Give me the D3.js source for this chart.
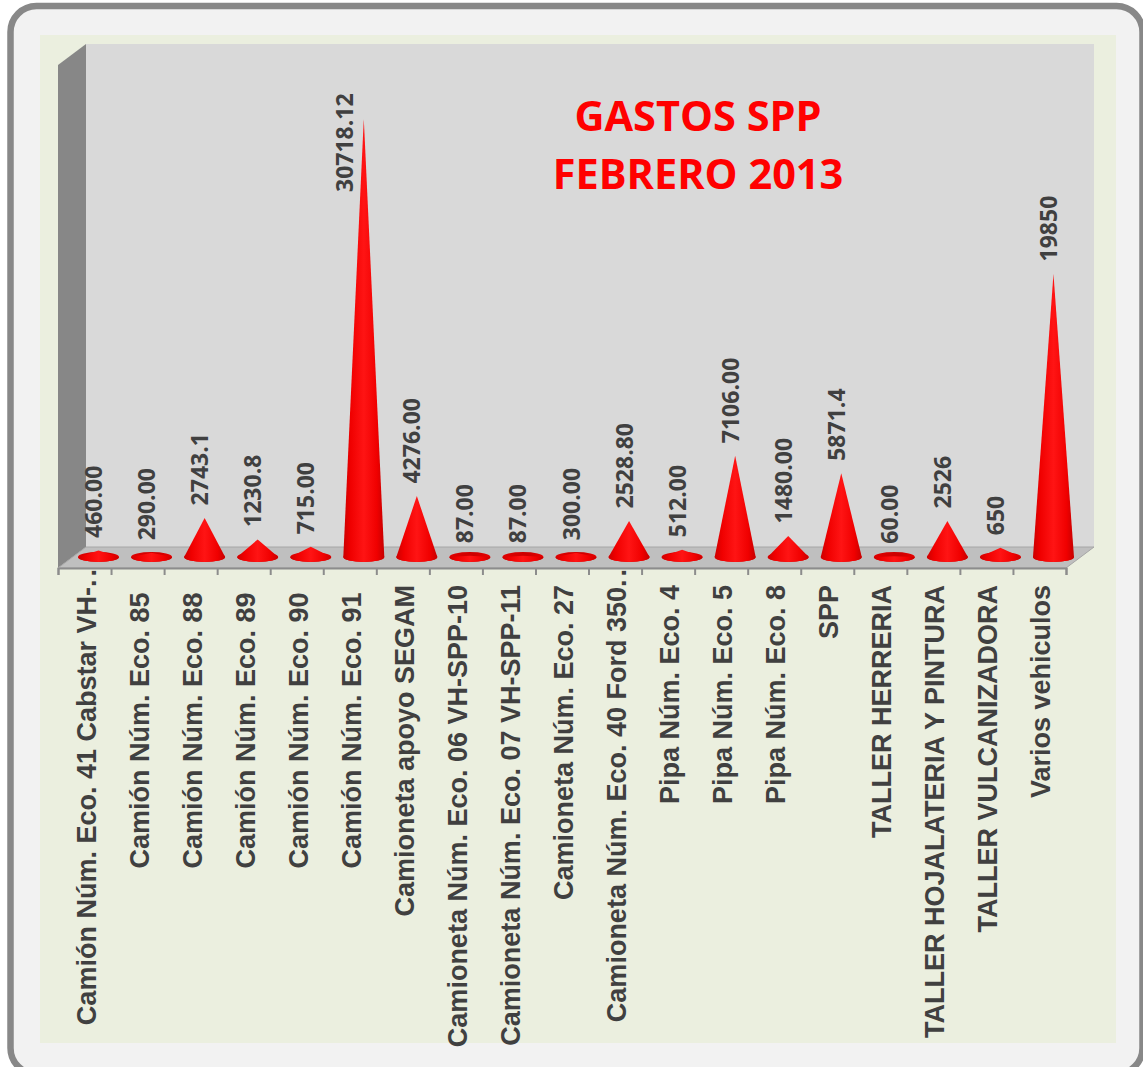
<!DOCTYPE html>
<html>
<head>
<meta charset="utf-8">
<script src="https://cdn.jsdelivr.net/npm/d3@7"></script>
<style>
  html, body { margin: 0; padding: 0; background: #fff; overflow: hidden; }
  svg { display: block; }
  text { white-space: pre; }
</style>
</head>
<body>
<div id="chart"></div>
<script>
// some names keep a trailing space, it pushes the text away from the axis
const categories = [
  'Camión Núm. Eco. 41 Cabstar VH-..', 'Camión Núm. Eco. 85 ', 'Camión Núm. Eco. 88 ',
  'Camión Núm. Eco. 89 ', 'Camión Núm. Eco. 90 ', 'Camión Núm. Eco. 91 ',
  'Camioneta apoyo SEGAM', 'Camioneta Núm. Eco. 06 VH-SPP-10', 'Camioneta Núm. Eco. 07 VH-SPP-11',
  'Camioneta Núm. Eco. 27', 'Camioneta Núm. Eco. 40 Ford 350..', 'Pipa Núm. Eco. 4',
  'Pipa Núm. Eco. 5', 'Pipa Núm. Eco. 8', 'SPP',
  'TALLER HERRERIA', 'TALLER HOJALATERIA Y PINTURA', 'TALLER VULCANIZADORA', 'Varios vehiculos'
];
const values = [460, 290, 2743.1, 1230.8, 715, 30718.12, 4276, 87, 87, 300, 2528.8, 512, 7106, 1480, 5871.4, 60, 2526, 650, 19850];
const valueLabels = ['460.00', '290.00', '2743.1', '1230.8', '715.00', '30718.12', '4276.00', '87.00', '87.00', '300.00',
  '2528.80', '512.00', '7106.00', '1480.00', '5871.4', '60.00', '2526', '650', '19850'];
const titleLines = ['GASTOS SPP', 'FEBRERO 2013'];

const width = 1143, height = 1067;

// 3d box of the plot, back wall is pushed by depthX/depthY
const plot = { left: 58, right: 1066, floor: 568, top: 65 },
    depthX = 28,
    depthY = 21,
    baseY = 557,
    coneRx = 20.5,
    coneRy = 5;

const x = d3.scaleBand()
    .domain(categories)
    .range([plot.left, plot.right]);

const y = d3.scaleLinear()
    .domain([0, 30718.12])
    .range([baseY, 119]);

const coneX = i => x(categories[i]) + x.bandwidth() / 2 + depthX / 2;

const svg = d3.select('#chart')
    .append('svg')
    .attr('width', width)
    .attr('height', height);

const defs = svg.append('defs');
const grad = defs.append('linearGradient').attr('id', 'cone');
grad.append('stop').attr('offset', '0%').attr('stop-color', '#cc0000');
grad.append('stop').attr('offset', '18%').attr('stop-color', '#f00000');
grad.append('stop').attr('offset', '50%').attr('stop-color', '#ff1414');
grad.append('stop').attr('offset', '82%').attr('stop-color', '#f00000');
grad.append('stop').attr('offset', '100%').attr('stop-color', '#c60000');

const rim = defs.append('linearGradient').attr('id', 'rim');
rim.append('stop').attr('offset', '0%').attr('stop-color', '#e00000');
rim.append('stop').attr('offset', '60%').attr('stop-color', '#cc0000');
rim.append('stop').attr('offset', '100%').attr('stop-color', '#e80000');

// outer frame
svg.append('rect')
    .attr('x', 10.5).attr('y', 6)
    .attr('width', 1132).attr('height', 1068)
    .attr('rx', 26)
    .attr('fill', '#f2f2f2')
    .attr('stroke', '#888888')
    .attr('stroke-width', 6.5);

svg.append('rect')
    .attr('x', 40).attr('y', 35)
    .attr('width', 1076).attr('height', 1008)
    .attr('fill', '#ebefdf');

// walls and floor
const poly = pts => 'M' + pts.map(p => p.join(',')).join('L') + 'Z';
svg.append('path')
    .attr('d', poly([[plot.left + depthX, plot.top - depthY], [plot.right + depthX, plot.top - depthY],
      [plot.right + depthX, plot.floor - depthY], [plot.left + depthX, plot.floor - depthY]]))
    .attr('fill', '#d9d9d9');
svg.append('path')
    .attr('d', poly([[plot.left, plot.top], [plot.left + depthX, plot.top - depthY],
      [plot.left + depthX, plot.floor - depthY], [plot.left, plot.floor]]))
    .attr('fill', '#878787');
svg.append('path')
    .attr('d', poly([[plot.left, plot.floor], [plot.left + depthX, plot.floor - depthY],
      [plot.right + depthX, plot.floor - depthY], [plot.right, plot.floor]]))
    .attr('fill', '#bfbfbf')
    .attr('stroke', '#a6a6a6')
    .attr('stroke-width', 1);

// axis
const tickScale = d3.scaleLinear().domain([0, categories.length]).range([plot.left, plot.right]);
const axis = svg.append('g')
    .attr('transform', `translate(0,${plot.floor})`)
    .call(d3.axisBottom(tickScale)
        .tickValues(d3.range(categories.length + 1))
        .tickSize(7)
        .tickFormat(''));
axis.selectAll('path, line')
    .attr('stroke', '#8c8c8c')
    .attr('stroke-width', 2);

// category labels, the cut ones have their dots spaced out past the normal start
const catLabels = svg.append('g')
    .selectAll('text')
    .data(categories)
    .join('text')
    .attr('transform', d => `translate(${x(d) + x.bandwidth() / 2 + 11},${d.endsWith('..') ? 566 : 585}) rotate(-90)`)
    .attr('text-anchor', 'end')
    .attr('font-family', '"Liberation Sans", Arial, sans-serif')
    .attr('font-weight', 700)
    .attr('font-size', 27)
    .attr('fill', '#404040')
    .text(d => d.replace(/\.\.$/, ''));

catLabels.filter(d => d.endsWith('..'))
    .append('tspan')
    .attr('letter-spacing', 3)
    .text('..');

// cones
const cone = (d, i) => {
  const cx = coneX(i);
  return `M${cx - coneRx},${baseY}L${cx},${y(d)}L${cx + coneRx},${baseY}` +
    `A${coneRx},${coneRy} 0 0 1 ${cx - coneRx},${baseY}Z`;
};

svg.append('g')
    .selectAll('ellipse')
    .data(values)
    .join('ellipse')
    .attr('cx', (d, i) => coneX(i))
    .attr('cy', baseY)
    .attr('rx', coneRx)
    .attr('ry', coneRy)
    .attr('fill', 'url(#rim)');

svg.append('g')
    .selectAll('path')
    .data(values)
    .join('path')
    .attr('d', cone)
    .attr('fill', 'url(#cone)');

// value labels, the tallest one sits beside its tip
svg.append('g')
    .selectAll('text')
    .data(values)
    .join('text')
    .attr('transform', (d, i) => {
      const tall = d === d3.max(values);
      return `translate(${coneX(i) + (tall ? -11 : 3.5)},${tall ? y(d) + 73 : y(d) - 12.5}) rotate(-90)`;
    })
    .attr('font-family', '"Open Sans", sans-serif')
    .attr('font-weight', 700)
    .attr('font-size', 23)
    .attr('fill', '#404040')
    .text((d, i) => valueLabels[i]);

// title
svg.append('g')
    .selectAll('text')
    .data(titleLines)
    .join('text')
    .attr('x', 698)
    .attr('y', (d, i) => 131 + i * 58)
    .attr('text-anchor', 'middle')
    .attr('font-family', '"Open Sans", sans-serif')
    .attr('font-weight', 700)
    .attr('font-size', 41.5)
    .attr('fill', '#ff0000')
    .text(d => d);
</script>
</body>
</html>
